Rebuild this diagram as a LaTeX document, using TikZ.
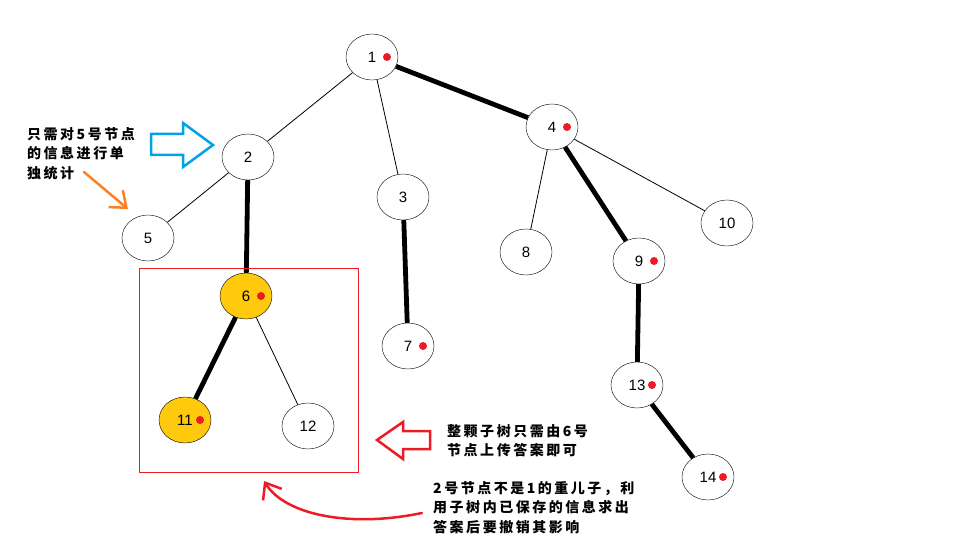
\documentclass[tikz,border=0pt]{standalone}
\usepackage{fontspec}
\setmainfont{Liberation Sans}
\newfontfamily\cjk[LetterSpace=18]{Noto Sans CJK SC}
\usetikzlibrary{
  shapes.geometric, % For ellipse nodes
  arrows.meta % For arrow tips
}
\definecolor{gold}{RGB}{255,201,14}
\definecolor{hellrot}{RGB}{237,28,36}
\definecolor{hellblau}{RGB}{0,162,232}
\definecolor{hellorange}{RGB}{255,127,39}

\begin{document}
\begin{tikzpicture}[
      x=1pt, y=-1pt, % Pixelkoordinaten
      knoten/.style={draw, ellipse, fill=white, minimum width=52pt,
        minimum height=46pt, inner sep=0pt, font=\fontsize{15}{15}\selectfont},
      schwer/.style={knoten, fill=gold}, % Style for heavy nodes
      duenn/.style={line width=0.8pt}, % light edges
      dick/.style={line width=4.8pt}, % heavy edges
      punkt/.style={fill=hellrot},
      hinweis/.style={font=\cjk\bfseries\fontsize{14}{19.5}\selectfont,
        align=left, anchor=north west, inner sep=0pt},
      pfeil/.style={line width=2.5pt, line cap=round,
        -{Straight Barb[length=14pt, width=22pt, line width=2.5pt]}},
    ]
    \useasboundingbox (0,0) rectangle (960,540);
    % Knoten
    \node[knoten] (n1) at (372,57) {1};
    \node[knoten] (n2) at (248,157) {2};
    \node[knoten] (n3) at (403,197) {3};
    \node[knoten] (n4) at (552,127) {4};
    \node[knoten] (n5) at (148,238) {5};
    \node[schwer] (n6) at (246,296) {6};
    \node[knoten] (n7) at (408,346) {7};
    \node[knoten] (n8) at (526,252) {8};
    \node[knoten] (n9) at (639,261) {9};
    \node[knoten] (n10) at (727,223) {10};
    \node[schwer] (n11) at (185,420) {11};
    \node[knoten] (n12) at (308,426) {12};
    \node[knoten] (n13) at (637,385) {13};
    \node[knoten] (n14) at (708,477) {14};
    % Kanten
    \draw[duenn] (n1) -- (n2);
    \draw[duenn] (n1) -- (n3);
    \draw[dick] (n1) -- (n4);
    \draw[duenn] (n2) -- (n5);
    \draw[dick] (n2) -- (n6);
    \draw[dick] (n3) -- (n7);
    \draw[duenn] (n4) -- (n8);
    \draw[dick] (n4) -- (n9);
    \draw[duenn] (n4) -- (n10);
    \draw[dick] (n6) -- (n11);
    \draw[duenn] (n6) -- (n12);
    \draw[dick] (n9) -- (n13);
    \draw[dick] (n13) -- (n14);
    % Punkte
    \foreach \k in {1,4,6,7,9,11,13,14}
      \fill[punkt] ([xshift=15pt]n\k.center) circle (4pt);
    % Teilbaum
    \draw[hellrot, line width=1pt] (139,268) rectangle (358,472);
    % Blockpfeile
    \draw[hellblau, line width=2.5pt] (151,134) -- (183,134) -- (183,123)
      -- (213,145) -- (183,167) -- (183,155) -- (151,155) -- cycle;
    \draw[hellrot, line width=2.5pt] (430,431) -- (403,431) -- (403,422)
      -- (377,440) -- (403,459) -- (403,449) -- (430,449) -- cycle;
    % Hinweispfeile
    \coordinate (o1) at (84,172);
    \coordinate (o2) at (128,209);
    \draw[pfeil, hellorange] (o1) -- (o2);
    \coordinate (r1) at (422,513);
    \coordinate (r2) at (264,481);
    \draw[pfeil, hellrot] (r1) .. controls (350,528) and (285,515) .. (r2);
    % Texte
    \node[hinweis] (t1) at (27,127) {只需对5号节点\\的信息进行单\\独统计};
    \node[hinweis] (t2) at (447,424) {整颗子树只需由6号\\节点上传答案即可};
    \node[hinweis] (t3) at (433,481)
      {2号节点不是1的重儿子，利\\用子树内已保存的信息求出\\答案后要撤销其影响};
  \end{tikzpicture}
\end{document}
